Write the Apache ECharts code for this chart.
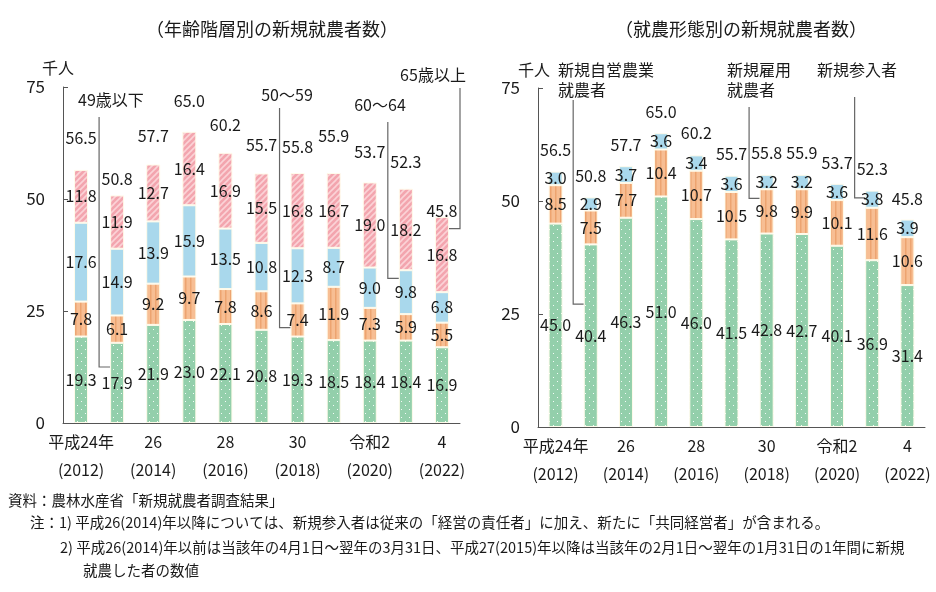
<!DOCTYPE html>
<html><head><meta charset="utf-8">
<script src="https://cdn.jsdelivr.net/npm/echarts@6/dist/echarts.min.js"></script>
<style>html,body{margin:0;padding:0;background:#fff}#c{width:936px;height:592px}</style>
</head><body><div id="c"></div>
<script>
// ---- data ----
const categories = ['2012','2013','2014','2015','2016','2017','2018','2019','2020','2021','2022'];
const tickLabels = ['平成24年\n(2012)','25','26\n(2014)','27','28\n(2016)','29','30\n(2018)','令和元','令和2\n(2020)','3','4\n(2022)'];
// left: by age group (thousand persons)
const ageUnder49 = [19.3,17.9,21.9,23.0,22.1,20.8,19.3,18.5,18.4,18.4,16.9];
const age50to59  = [7.8,6.1,9.2,9.7,7.8,8.6,7.4,11.9,7.3,5.9,5.5];
const age60to64  = [17.6,14.9,13.9,15.9,13.5,10.8,12.3,8.7,9.0,9.8,6.8];
const age65plus  = [11.8,11.9,12.7,16.4,16.9,15.5,16.8,16.7,19.0,18.2,16.8];
const ageTotal   = [56.5,50.8,57.7,65.0,60.2,55.7,55.8,55.9,53.7,52.3,45.8];
// right: by type
const selfEmployed = [45.0,40.4,46.3,51.0,46.0,41.5,42.8,42.7,40.1,36.9,31.4];
const employed     = [8.5,7.5,7.7,10.4,10.7,10.5,9.8,9.9,10.1,11.6,10.6];
const newEntrants  = [3.0,2.9,3.7,3.6,3.4,3.6,3.2,3.2,3.6,3.8,3.9];
const typeTotal    = [56.5,50.8,57.7,65.0,60.2,55.7,55.8,55.9,53.7,52.3,45.8];
const yTicks = [0,25,50,75];

// ---- styling ----
const FONT = '"Noto Sans CJK JP","Noto Sans",sans-serif';
const TXT = '#1a1a1a';
const leftTotalLift = [23,8,20,22,20,20,18,28,22,18,-2];

function pattern(kind){
  const c = document.createElement('canvas');
  let ctx;
  if(kind==='dots'){
    c.width=8;c.height=8;ctx=c.getContext('2d');
    ctx.fillStyle='#93cfab';ctx.fillRect(0,0,8,8);
    ctx.fillStyle='rgba(255,255,255,0.9)';
    ctx.fillRect(1,1,1,1);ctx.fillRect(5,5,1,1);
  } else if(kind==='vstripe'){
    c.width=5;c.height=4;ctx=c.getContext('2d');
    ctx.fillStyle='#f7be93';ctx.fillRect(0,0,5,4);
    ctx.fillStyle='#eda470';ctx.fillRect(0,0,1.5,4);
  } else if(kind==='diag'){
    c.width=6;c.height=6;ctx=c.getContext('2d');
    ctx.fillStyle='#f3a5ae';ctx.fillRect(0,0,6,6);
    ctx.strokeStyle='#fbd3d7';ctx.lineWidth=1.6;
    [[0,6,6,0],[-3,3,3,-3],[3,9,9,3]].forEach(l=>{ctx.beginPath();ctx.moveTo(l[0],l[1]);ctx.lineTo(l[2],l[3]);ctx.stroke();});
  }
  return {image:c, repeat:'repeat'};
}
const GREEN = pattern('dots'), ORANGE = pattern('vstripe'), PINK = pattern('diag'), BLUE = '#a9d8ec';

function segLabel(){
  return {show:true, position:'inside', color:TXT, fontSize:16, fontFamily:FONT,
          textBorderWidth:0, formatter:p=>p.value.toFixed(1)};
}
function bar(name, data, color, stack, gi){
  return {name, type:'bar', stack, xAxisIndex:gi, yAxisIndex:gi, data, barWidth:14,
    itemStyle:{color, borderColor:'#fffbea', borderWidth:1},
    label:segLabel(), emphasis:{disabled:true}, animation:false};
}
function xAxis(gi){
  return {type:'category', gridIndex:gi, data:categories, boundaryGap:true,
    axisLine:{show:true, lineStyle:{color:'#555', width:1}}, axisTick:{show:false},
    axisLabel:{interval:1, formatter:(v,i)=>tickLabels[i], fontSize:16, lineHeight:28,
      margin:5, color:TXT, fontFamily:FONT}, splitLine:{show:false}};
}
function yAxis(gi){
  return {type:'value', gridIndex:gi, min:yTicks[0], max:yTicks[yTicks.length-1], interval:25,
    axisLine:{show:true, lineStyle:{color:'#555', width:1}},
    axisTick:{show:true, inside:true, length:5, lineStyle:{color:'#555'}},
    splitLine:{show:false},
    axisLabel:{fontSize:17, color:TXT, margin:18, fontFamily:FONT}};
}
function totals(data, gi, lifts, dist){
  return {type:'scatter', xAxisIndex:gi, yAxisIndex:gi, symbolSize:1, z:5, silent:true, animation:false,
    itemStyle:{opacity:0}, emphasis:{disabled:true},
    data:data.map((v,i)=>({value:v, label:{distance: lifts ? lifts[i] : dist}})),
    label:{show:true, position:'top', color:TXT, opacity:1, fontSize:16, fontFamily:FONT,
      formatter:p=>p.value.toFixed(1)}};
}

const chart = echarts.init(document.getElementById('c'), null, {renderer:'canvas'});
chart.setOption({
  animation:false,
  backgroundColor:'#fff',
  textStyle:{fontFamily:FONT},
  grid:[{left:63, right:476, top:87, bottom:169, containLabel:false},
        {left:538, right:11, top:88, bottom:165, containLabel:false}],
  xAxis:[xAxis(0), xAxis(1)],
  yAxis:[yAxis(0), yAxis(1)],
  series:[
    bar('49歳以下', ageUnder49, GREEN, 'a', 0),
    bar('50〜59', age50to59, ORANGE, 'a', 0),
    bar('60〜64', age60to64, BLUE, 'a', 0),
    bar('65歳以上', age65plus, PINK, 'a', 0),
    totals(ageTotal, 0, leftTotalLift),
    bar('新規自営農業就農者', selfEmployed, GREEN, 'b', 1),
    bar('新規雇用就農者', employed, ORANGE, 'b', 1),
    bar('新規参入者', newEntrants, BLUE, 'b', 1),
    totals(typeTotal, 1, null, 13)
  ]
});

// ---- annotations (leader lines from series names to bars) ----
const leaders = [
  {gi:0, text:'49歳以下', tx:78, ty:100, align:'left', bound:0.5, yTop:117, cat:1, val:12.5, side:'left'},
  {gi:0, text:'50〜59', tx:287, ty:95, align:'center', bound:5.5, yTop:108, cat:6, val:21.3, side:'left'},
  {gi:0, text:'60〜64', tx:380, ty:105, align:'center', bound:8.5, yTop:122, cat:9, val:32.3, side:'left'},
  {gi:0, text:'65歳以上', tx:433, ty:75, align:'center', bound:10.5, yTop:88, cat:10, val:43.4, side:'right'},
  {gi:1, text:'新規自営農業\n就農者', tx:558, ty:80, align:'left', bound:0.5, yTop:100, cat:1, val:27.2, side:'left'},
  {gi:1, text:'新規雇用\n就農者', tx:727, ty:80, align:'left', bound:5.5, yTop:107, cat:6, val:50.6, side:'left'},
  {gi:1, text:'新規参入者', tx:817, ty:70, align:'left', bound:8.5, yTop:97, cat:9, val:50.7, side:'left'}
];
const g = [];
function px(gi, c, v){ return chart.convertToPixel({xAxisIndex:gi, yAxisIndex:gi}, [c, v]); }
leaders.forEach(L=>{
  const c0 = px(L.gi, Math.floor(L.bound), 0)[0];
  const c1 = px(L.gi, Math.floor(L.bound)-1 >= 0 ? Math.floor(L.bound)-1 : Math.floor(L.bound)+1, 0)[0];
  const step = Math.abs(c0 - c1);
  const xb = c0 + step/2;
  const p = px(L.gi, L.cat, L.val);
  const xe = L.side==='left' ? p[0]-7 : p[0]+7;
  g.push({type:'polyline', silent:true, shape:{points:[[xb,L.yTop],[xb,p[1]],[xe,p[1]]]},
          style:{stroke:'#666', lineWidth:1.2, fill:null}});
  g.push({type:'text', silent:true, style:{text:L.text, x:L.tx, y:L.ty, fill:TXT, fontSize:16,
          fontFamily:FONT, lineHeight:20, textAlign:L.align, textVerticalAlign:'middle'}});
});
// titles, units, notes
const texts = [
  ['（年齢階層別の新規就農者数）', 272, 29, 'center', 18],
  ['（就農形態別の新規就農者数）', 741, 29, 'center', 18],
  ['千人', 42, 68, 'left', 16],
  ['千人', 518, 70, 'left', 16],
  ['資料：農林水産省「新規就農者調査結果」', 8, 500, 'left', 14.5],
  ['注：1) 平成26(2014)年以降については、新規参入者は従来の「経営の責任者」に加え、新たに「共同経営者」が含まれる。', 30, 522, 'left', 14.5],
  ['2) 平成26(2014)年以前は当該年の4月1日〜翌年の3月31日、平成27(2015)年以降は当該年の2月1日〜翌年の1月31日の1年間に新規', 60, 547, 'left', 14.5],
  ['就農した者の数値', 83, 570, 'left', 14.5]
];
texts.forEach(t=>g.push({type:'text', silent:true, style:{text:t[0], x:t[1], y:t[2], fill:TXT,
  fontSize:t[4], fontFamily:FONT, textAlign:t[3], textVerticalAlign:'middle'}}));
chart.setOption({graphic:g});
</script>
</body></html>
